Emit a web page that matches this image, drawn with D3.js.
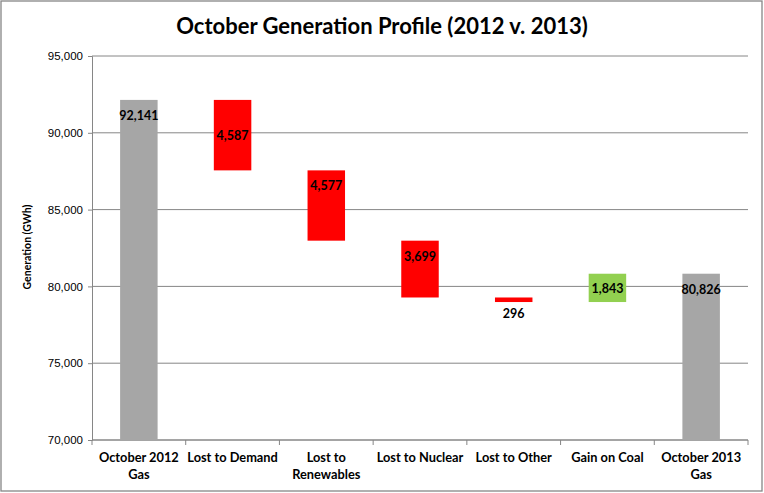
<!DOCTYPE html>
<html>
<head>
<meta charset="utf-8">
<script src="https://cdn.jsdelivr.net/npm/d3@7"></script>
<style>
  body { margin: 0; background: #fff; }
  svg { display: block; font-family: Lato, "Open Sans", sans-serif; }
</style>
</head>
<body>
<svg id="chart" width="764" height="493"></svg>
<script>
const categories = [["October 2012", "Gas"], ["Lost to Demand"], ["Lost to", "Renewables"], ["Lost to Nuclear"], ["Lost to Other"], ["Gain on Coal"], ["October 2013", "Gas"]];
const changes = [92141, -4587, -4577, -3699, -296, 1843, 80826]; // first & last are totals
const kinds = ["total", "loss", "loss", "loss", "loss", "gain", "total"];
const yTicks = [70000, 75000, 80000, 85000, 90000, 95000];

const colors = { total: "#a6a6a6", loss: "#ff0000", gain: "#92d050" };

const svg = d3.select("#chart");
const margin = { top: 56, right: 16, bottom: 53, left: 92 };
const width = 764 - margin.left - margin.right;
const height = 493 - margin.top - margin.bottom;

// chart border
svg.append("rect")
    .attr("x", 1).attr("y", 1)
    .attr("width", 761).attr("height", 490)
    .attr("fill", "#fff")
    .attr("stroke", "#868686")
    .attr("stroke-width", 1.3);

svg.append("text")
    .attr("x", 382).attr("y", 34)
    .attr("text-anchor", "middle")
    .style("font-size", "22px")
    .style("font-weight", "bold")
    .text("October Generation Profile (2012 v. 2013)");

const g = svg.append("g").attr("transform", `translate(${margin.left},${margin.top})`);

const x = d3.scaleBand().domain(d3.range(categories.length)).range([0, width]).paddingInner(0.6).paddingOuter(0.3);
const xb = d3.scaleBand().domain(d3.range(categories.length)).range([0, width]);
const y = d3.scaleLinear().domain([70000, 95000]).range([height, 0]);

// waterfall segments
let running = 0;
const bars = changes.map((v, i) => {
    let lo, hi;
    if (kinds[i] === "total") { lo = 70000; hi = v; running = v; }
    else { const next = running + v; lo = Math.min(running, next); hi = Math.max(running, next); running = next; }
    return { i, v, lo, hi, kind: kinds[i] };
});

// gridlines
g.append("g").selectAll("line").data(yTicks).join("line")
    .attr("x1", 0).attr("x2", width)
    .attr("y1", d => y(d)).attr("y2", d => y(d))
    .attr("stroke", "#868686").attr("stroke-width", 1);

// y axis
const yAxis = g.append("g")
    .call(d3.axisLeft(y).tickValues(yTicks).tickFormat(d3.format(",")).tickSize(4).tickPadding(5));
yAxis.select(".domain").attr("stroke", "#868686");
yAxis.selectAll(".tick line").attr("stroke", "#868686");
yAxis.selectAll("text").style("font-size", "11.5px").attr("fill", "#000");

// x axis line + ticks at category boundaries
g.append("line").attr("x1", 0).attr("x2", width).attr("y1", height).attr("y2", height).attr("stroke", "#868686");
g.append("g").selectAll("line").data(d3.range(categories.length + 1)).join("line")
    .attr("x1", d => d * xb.step()).attr("x2", d => d * xb.step())
    .attr("y1", height).attr("y2", height + 5)
    .attr("stroke", "#868686");

g.selectAll("rect.bar").data(bars).join("rect")
    .attr("class", "bar")
    .attr("x", d => x(d.i))
    .attr("width", x.bandwidth())
    .attr("y", d => y(d.hi))
    .attr("height", d => y(d.lo) - y(d.hi))
    .attr("fill", d => colors[d.kind]);

// value labels
const fmt = d3.format(",");
g.selectAll("text.val").data(bars).join("text")
    .attr("class", "val")
    .attr("x", d => x(d.i) + x.bandwidth() / 2)
    .attr("y", d => {
        const top = y(d.hi), bot = y(d.lo);
        if (bot - top < 10) return bot + 16;          // thin bar: label below
        if (d.kind === "gain" || d.i === 1) return (top + bot) / 2 + 5;
        return top + 20;
    })
    .attr("text-anchor", "middle")
    .style("font-size", "12.5px")
    .style("font-weight", "bold")
    .attr("fill", "#000")
    .text(d => fmt(Math.abs(d.v)));

// category labels
const cl = g.selectAll("text.cat").data(categories).join("text")
    .attr("class", "cat")
    .attr("x", (d, i) => xb(i) + xb.bandwidth() / 2)
    .attr("y", height + 22)
    .attr("text-anchor", "middle")
    .style("font-size", "12.8px")
    .style("font-weight", "bold")
    .attr("fill", "#000");
cl.selectAll("tspan").data(d => d).join("tspan")
    .attr("x", function () { return d3.select(this.parentNode).attr("x"); })
    .attr("dy", (d, j) => j === 0 ? 0 : 17)
    .text(d => d);

svg.append("text")
    .attr("transform", "translate(31,247) rotate(-90)")
    .attr("text-anchor", "middle")
    .style("font-size", "10.5px")
    .style("font-weight", "bold")
    .text("Generation (GWh)");
</script>
</body>
</html>
